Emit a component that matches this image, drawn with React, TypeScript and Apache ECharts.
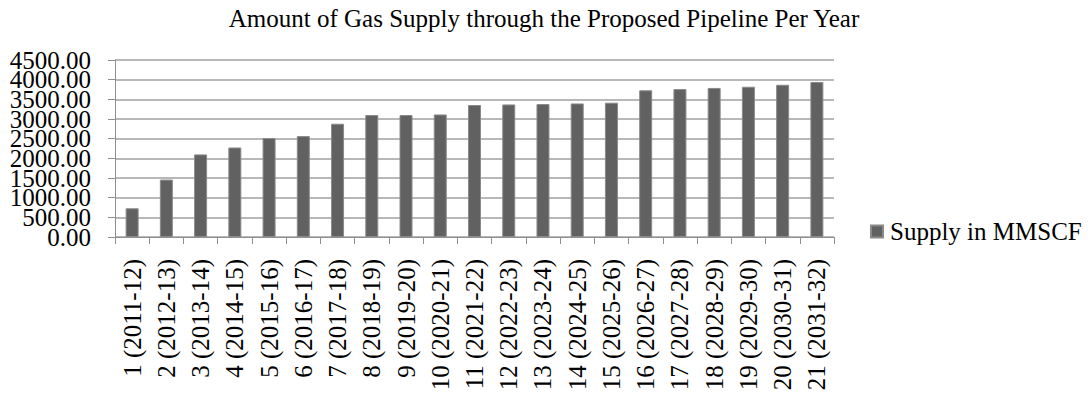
import React, { useEffect, useRef } from "react";
import * as echarts from "echarts";

const titleText = "Amount of Gas Supply through the Proposed Pipeline Per Year";
const seriesName = "Supply in MMSCF";
const categories = [
  "1 (2011-12)", "2 (2012-13)", "3 (2013-14)", "4 (2014-15)", "5 (2015-16)",
  "6 (2016-17)", "7 (2017-18)", "8 (2018-19)", "9 (2019-20)", "10 (2020-21)",
  "11 (2021-22)", "12 (2022-23)", "13 (2023-24)", "14 (2024-25)", "15 (2025-26)",
  "16 (2026-27)", "17 (2027-28)", "18 (2028-29)", "19 (2029-30)", "20 (2030-31)",
  "21 (2031-32)",
];
const supply = [
  730, 1460, 2100, 2275, 2515, 2565, 2880, 3100, 3100, 3115,
  3355, 3370, 3380, 3395, 3415, 3730, 3760, 3790, 3820, 3870, 3940,
];
const yTickLabels = [
  "0.00", "500.00", "1000.00", "1500.00", "2000.00",
  "2500.00", "3000.00", "3500.00", "4000.00", "4500.00",
];
const yMin = 0;
const yMax = 4500;
const yStep = 500;

const FONT = "Liberation Serif";
const FS = 25;

export default function App() {
  const ref = useRef<HTMLDivElement>(null);
  useEffect(() => {
    if (!ref.current) return;
    const chart = echarts.init(ref.current, undefined, { renderer: "svg" });
    chart.setOption({
      animation: false,
      backgroundColor: "#ffffff",
      textStyle: { fontFamily: FONT },
      title: {
        text: titleText,
        left: "center",
        top: 1,
        textStyle: { fontFamily: FONT, fontSize: FS, fontWeight: "normal", color: "#000" },
      },
      legend: {
        data: [seriesName],
        left: 865,
        top: 214,
        padding: 5,
        orient: "vertical",
        icon: "rect",
        itemWidth: 12,
        itemHeight: 12,
        itemGap: 0,
        textStyle: { fontFamily: FONT, fontSize: FS, color: "#000", padding: [0, 0, 0, 2] },
      },
      grid: { left: 115, right: 254, top: 60, bottom: 159, containLabel: false },
      xAxis: {
        type: "category",
        data: categories,
        axisLine: { show: true, lineStyle: { color: "#909090", width: 1 } },
        axisTick: { show: true, length: 7, lineStyle: { color: "#909090" } },
        axisLabel: {
          rotate: 90,
          interval: 0,
          margin: 22,
          fontFamily: FONT,
          fontSize: FS,
          color: "#000",
        },
      },
      yAxis: [
        {
          type: "value",
          min: yMin,
          max: yMax,
          interval: yStep,
          axisLine: { show: true, lineStyle: { color: "#909090", width: 1 } },
          axisTick: { show: true, length: 7, lineStyle: { color: "#909090" } },
          splitLine: { show: true, lineStyle: { color: "#a0a0a0", width: 1.5 } },
          axisLabel: { show: false },
        },
        {
          type: "category",
          data: yTickLabels,
          position: "left",
          boundaryGap: false,
          axisLine: { show: false },
          axisTick: { show: false },
          splitLine: { show: false },
          axisLabel: {
            interval: 0,
            margin: 24,
            formatter: (v: string) => "{t|" + v + "}",
            rich: {
              t: {
                fontFamily: FONT,
                fontSize: FS,
                color: "#000",
                height: 18,
                lineHeight: 18,
              },
            },
          },
        },
      ],
      series: [
        {
          name: seriesName,
          type: "bar",
          yAxisIndex: 0,
          data: supply,
          barWidth: 13,
          itemStyle: { color: "#616161", borderColor: "#8a8a8a", borderWidth: 1 },
        },
      ],
    });
    return () => chart.dispose();
  }, []);
  return (
    <div
      ref={ref}
      style={{ position: "fixed", left: 0, top: 0, width: 1088, height: 396, background: "#fff" }}
    />
  );
}
